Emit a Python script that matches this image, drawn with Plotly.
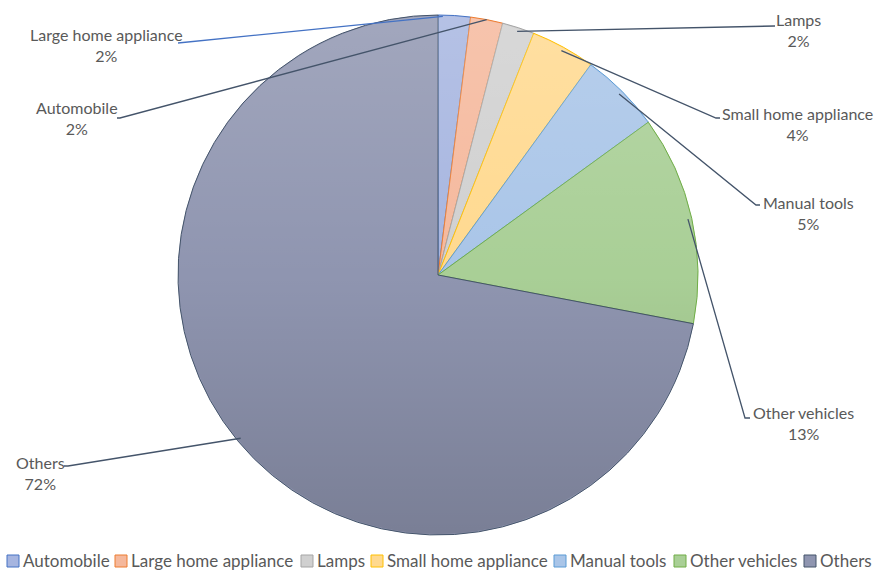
import base64
import math

import plotly.graph_objects as go

# ---- data -------------------------------------------------------------
categories = ["Automobile", "Large home appliance", "Lamps", "Small home appliance",
              "Manual tools", "Other vehicles", "Others"]
shares = [2, 2, 2, 4, 5, 13, 72]

fill_colors = ["#a6b5e0", "#f5b89c", "#d0d0d0", "#ffd98f", "#a9c5e8", "#a9cf96", "#8f95b0"]
edge_colors = ["#4472C4", "#ED7D31", "#A5A5A5", "#FFC000", "#5B9BD5", "#70AD47", "#44546A"]

# ---- canvas geometry (pixels) -----------------------------------------
W, H = 876, 570
CX, CY, R = 438, 275, 260
FONT = "Lato, 'Open Sans', sans-serif"
TEXT_COLOR = "#595959"


def px(x):
    return x / W


def py(y):
    return 1 - y / H


fig = go.Figure(go.Pie(
    labels=categories,
    values=shares,
    sort=False,
    direction="clockwise",
    rotation=0,
    textinfo="none",
    hoverinfo="label+percent",
    marker=dict(colors=fill_colors, line=dict(color=edge_colors, width=1)),
    domain=dict(x=[px(CX - R), px(CX + R)], y=[py(CY + R), py(CY - R)]),
    showlegend=False,
))

# soft vertical shading across the pie (lighter at top, darker at bottom)
svg = (
    '<svg xmlns="http://www.w3.org/2000/svg" width="520" height="520" viewBox="0 0 520 520">'
    '<defs><linearGradient id="g" x1="0" y1="0" x2="0" y2="1">'
    '<stop offset="0" stop-color="#ffffff" stop-opacity="0.17"/>'
    '<stop offset="0.5" stop-color="#ffffff" stop-opacity="0"/>'
    '<stop offset="0.5" stop-color="#000000" stop-opacity="0"/>'
    '<stop offset="1" stop-color="#000000" stop-opacity="0.15"/>'
    '</linearGradient></defs>'
    '<circle cx="260" cy="260" r="259" fill="url(#g)"/></svg>'
)
fig.add_layout_image(dict(
    source="data:image/svg+xml;base64," + base64.b64encode(svg.encode()).decode(),
    xref="paper", yref="paper",
    x=px(CX - R), y=py(CY - R), sizex=2 * R / W, sizey=2 * R / H,
    xanchor="left", yanchor="top", sizing="stretch", layer="above",
))

# ---- leader lines and outside labels ----------------------------------
total = sum(shares)
slice_span = {}
acc = 0
for name, v in zip(categories, shares):
    slice_span[name] = (acc / total * 360, (acc + v) / total * 360)
    acc += v

# label placement: (slice the leader points to, position within that slice,
#                   radius factor, elbow, stub end, text centre, line colour)
label_layout = {
    "Automobile":           ("Large home appliance", 0.5, 1.0, (120, 118), (117, 118), (77, 118.5), "#44546A"),
    "Large home appliance": ("Automobile", 0.15, 0.995, (178, 43), (178, 43), (106, 44.5), "#4472C4"),
    "Lamps":                ("Lamps", 0.5, 0.985, (775, 26), (775, 26), (798, 29.5), "#44546A"),
    "Small home appliance": ("Small home appliance", 0.5, 0.985, (716, 118), (720, 118), (797, 123.5), "#44546A"),
    "Manual tools":         ("Manual tools", 0.5, 0.985, (756, 205), (760, 205), (808, 213), "#44546A"),
    "Other vehicles":       ("Other vehicles", 0.5, 0.985, (745, 418), (750, 418), (803, 423), "#44546A"),
    "Others":               ("Others", 0.5, 0.985, (68, 466), (64, 466), (40, 473), "#44546A"),
}

for name, v in zip(categories, shares):
    target, frac, rf, elbow, stub, centre, lcol = label_layout[name]
    a0, a1 = slice_span[target]
    a = math.radians(a0 + frac * (a1 - a0))
    sx = CX + R * rf * math.sin(a)
    sy = CY - R * rf * math.cos(a)
    path = (f"M {px(sx)},{py(sy)} L {px(elbow[0])},{py(elbow[1])} "
            f"L {px(stub[0])},{py(stub[1])}")
    fig.add_shape(type="path", path=path, xref="paper", yref="paper",
                  line=dict(color=lcol, width=1.3), layer="above")
    fig.add_annotation(
        x=px(centre[0]), y=py(centre[1]), xref="paper", yref="paper",
        text=f"{name}<br>{v}%", showarrow=False, align="center",
        xanchor="center", yanchor="middle",
        font=dict(family=FONT, size=16, color=TEXT_COLOR),
    )

# ---- legend row along the bottom ---------------------------------------
legend_x = [7, 115, 301, 371, 554, 674, 804]   # left edge of each swatch
legend_y = 560
for name, x0, fc, ec in zip(categories, legend_x, fill_colors, edge_colors):
    fig.add_shape(type="rect", xref="paper", yref="paper",
                  x0=px(x0), x1=px(x0 + 12), y0=py(legend_y + 7), y1=py(legend_y - 5),
                  fillcolor=fc, line=dict(color=ec, width=1))
    fig.add_annotation(
        x=px(x0 + 15), y=py(legend_y), xref="paper", yref="paper",
        text=name, showarrow=False, xanchor="left", yanchor="middle", borderpad=0,
        font=dict(family=FONT, size=17, color=TEXT_COLOR),
    )

fig.update_layout(
    width=W, height=H,
    margin=dict(l=0, r=0, t=0, b=0),
    paper_bgcolor="white",
    plot_bgcolor="white",
)

fig.write_html("out.html")
